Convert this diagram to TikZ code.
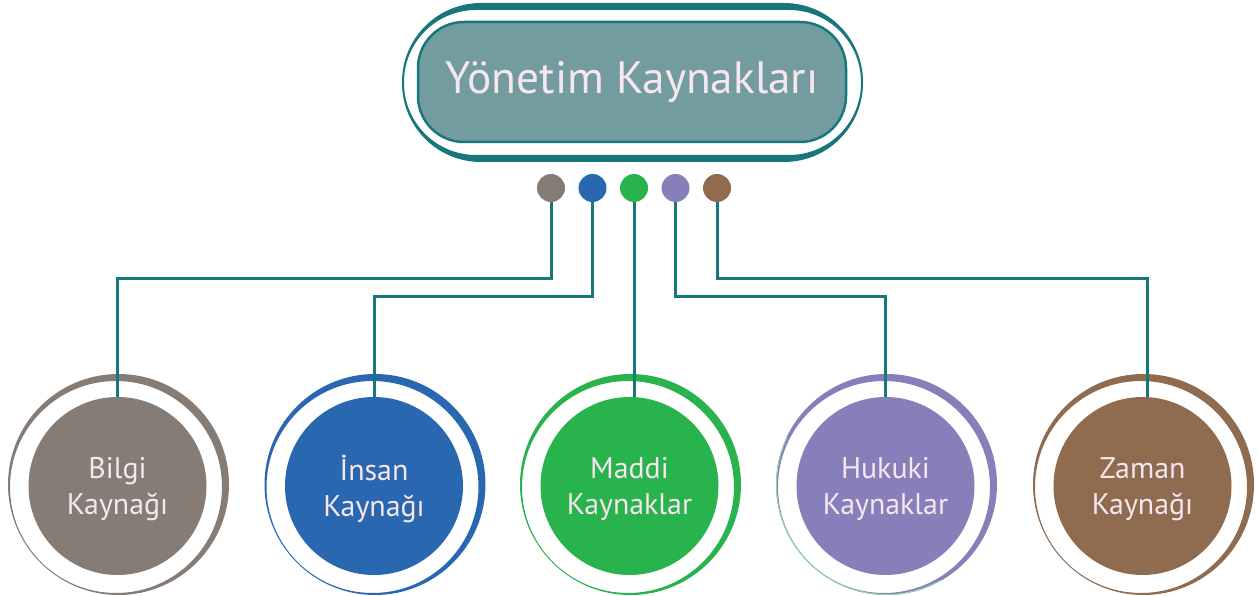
\documentclass[tikz,border=0pt]{standalone}
\usepackage{fontspec}
\setmainfont{PT Sans}
\definecolor{tealline}{HTML}{17777A}
\definecolor{titlefill}{HTML}{739C9F}
\definecolor{lighttext}{HTML}{F6E6EE}
\definecolor{cgray}{HTML}{857C76}
\definecolor{cblue}{HTML}{2A67B1}
\definecolor{cgreen}{HTML}{29B34D}
\definecolor{cpurple}{HTML}{877FBA}
\definecolor{cbrown}{HTML}{8F6B4F}
\definecolor{cpalegreen}{HTML}{8ED9A4}
% crescent ring around a resource circle: x, y, colour
\newcommand\crescentring[3]{%
  \fill[#3, even odd rule] ({#1+1},{#2-1.5}) circle[radius=110.5]
    ({#1-1.5},{#2+1}) circle[radius=106];}
\tikzset{
  resource/.style={circle, minimum size=178bp, inner sep=0pt, align=center,
    text=lighttext, font=\fontsize{30}{36}\selectfont},
  bullet/.style={circle, minimum size=28bp, inner sep=0pt},
  link/.style={draw=tealline, line width=3bp},
}
\begin{document}
\begin{tikzpicture}[x=1bp, y=-1bp]
\useasboundingbox (0,0) rectangle (1260,596);

% title frame
\fill[tealline, even odd rule, rounded corners=79bp] (402,3) rectangle (863,162)
  [rounded corners=72bp] (404,10) rectangle (861,155);
\node[draw=tealline, line width=2.5bp, fill=titlefill, rounded corners=46bp,
  minimum width=428bp, minimum height=120bp, inner sep=0pt,
  text=lighttext, font=\fontsize{45.5}{50}\selectfont] (title) at (632,82) {Yönetim Kaynakları};

% outer rings
\crescentring{117.5}{486}{cgray}
\crescentring{374}{486}{cblue}
\crescentring{629.5}{486}{cgreen}
\crescentring{885.5}{486}{cpurple}
\draw[cpalegreen, line width=0.9bp] ({885.5+1},{486-1.5}) ++(60:110) arc[start angle=60, end angle=205, radius=110];
\crescentring{1142.5}{486}{cbrown}

% resource circles
\node[resource, fill=cgray]   (bilgi)  at (117.5,486)  {};
\node[resource, fill=cblue]   (insan)  at (374,486)    {};
\node[resource, fill=cgreen]  (maddi)  at (629.5,486)  {};
\node[resource, fill=cpurple] (hukuki) at (885.5,486)  {};
\node[resource, fill=cbrown]  (zaman)  at (1142.5,486) {};

% circle labels, set a little below the centre
\node[resource, minimum size=0pt] (bilgitext)  at ([yshift=-3bp]bilgi.center)  {Bilgi\\Kaynağı};
\node[resource, minimum size=0pt] (insantext)  at ([yshift=-3bp]insan.center)  {İnsan\\Kaynağı};
\node[resource, minimum size=0pt] (madditext)  at ([yshift=-3bp]maddi.center)  {Maddi\\Kaynaklar};
\node[resource, minimum size=0pt] (hukukitext) at ([yshift=-3bp]hukuki.center) {Hukuki\\Kaynaklar};
\node[resource, minimum size=0pt] (zamantext)  at ([yshift=-3bp]zaman.center)  {Zaman\\Kaynağı};

% bullets under the title
\coordinate (b1) at (551,188);
\coordinate (b2) at (592.5,188);
\coordinate (b3) at (634,188);
\coordinate (b4) at (675.5,188);
\coordinate (b5) at (717,188);

% connectors
\draw[link] (b1) -- ++(0,91) -| (bilgi.north);
\draw[link] (b2) -- ++(0,109) -| (insan.north);
\draw[link] (b3) -- (b3 |- maddi.north);
\draw[link] (b4) -- ++(0,109) -| (hukuki.north);
\draw[link] (b5) -- ++(0,91) -| ([xshift=4.5bp]zaman.north);

\node[bullet, fill=cgray]   (d1) at (b1) {};
\node[bullet, fill=cblue]   (d2) at (b2) {};
\node[bullet, fill=cgreen]  (d3) at (b3) {};
\node[bullet, fill=cpurple] (d4) at (b4) {};
\node[bullet, fill=cbrown]  (d5) at (b5) {};
\end{tikzpicture}
\end{document}
